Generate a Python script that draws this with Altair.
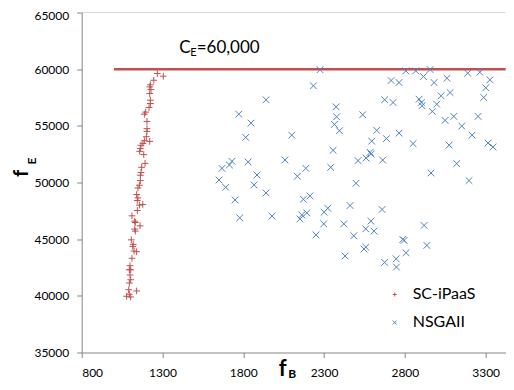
import altair as alt
import pandas as pd

# ---------------- data ----------------
series_names = ["SC-iPaaS", "NSGAII"]

sc_ipaas_fb = [1268, 1305, 1246, 1225, 1221, 1229, 1221, 1225, 1225, 1217, 1196, 1188, 1204, 1204,
               1204, 1200, 1188, 1221, 1179, 1167, 1163, 1159, 1184, 1192, 1171, 1167, 1163, 1163,
               1157, 1148, 1140, 1148, 1144, 1157, 1178, 1144, 1111, 1128, 1132, 1161, 1128, 1132,
               1107, 1119, 1116, 1124, 1140, 1111, 1099, 1095, 1103, 1099, 1103, 1095, 1091, 1140,
               1078, 1103, 1095]
sc_ipaas_fe = [59610, 59380, 59020, 58620, 58440, 58200, 57850, 57260, 56970, 56620, 56210, 56030,
               55390, 54750, 54510, 54040, 53690, 53630, 53450, 53280, 52990, 52750, 52460, 51690,
               51340, 50880, 50640, 50170, 49760, 49520, 48940, 48640, 48410, 48000, 48060, 47530,
               47060, 46590, 46470, 46180, 45890, 45710, 44940, 44540, 44360, 43950, 43890, 43310,
               42660, 42300, 42300, 41840, 41420, 41130, 40540, 40430, 39960, 39900, 40140]

nsgaii_fb = [2275, 2234, 1941, 1772, 1848, 1815, 2100, 2374, 2378, 2364, 2395, 2356, 2341, 2510,
             2498, 1730, 1714, 1668, 1830, 2058, 2187, 2135, 1885, 1650, 1691, 1867, 1941, 1749,
             2172, 2213, 1778, 1978, 2162, 2151, 2193, 2300, 2323, 2461, 2298, 2422, 2250, 2484,
             2430, 2806, 2867, 2956, 2915, 3189, 3264, 3327, 3301, 3288, 2715, 2764, 2981, 3061,
             3024, 3080, 2675, 2727, 2888, 2902, 2906, 2997, 2970, 2539, 3049, 3103, 3253, 3152,
             3216, 3315, 3346, 2626, 2764, 2595, 2686, 2851, 3074, 2585, 2591, 2560, 2663, 3121,
             2962, 3197, 2659, 2590, 2558, 2609, 2919, 2787, 2795, 2936, 2558, 2547, 2807, 2675,
             2746, 2748]
nsgaii_fe = [59950, 58530, 57300, 56030, 55240, 53980, 54180, 56680, 55800, 55130, 54570, 52840,
             51340, 51930, 49930, 51870, 51550, 51250, 51810, 51990, 51250, 50550, 50660, 50220,
             49580, 49780, 49080, 48460, 48520, 48820, 46880, 47030, 47140, 46790, 47320, 47380,
             47730, 47970, 46350, 46350, 45380, 45300, 43510, 59850, 59850, 59970, 59350, 59640,
             59730, 59060, 58360, 57500, 59000, 58820, 58820, 59200, 57650, 57940, 57300, 57060,
             57350, 57060, 56770, 56910, 56270, 55980, 55480, 55830, 55830, 54980, 54180, 53480,
             53130, 54600, 54360, 53650, 53870, 53430, 53300, 52660, 52510, 52160, 51980, 51670,
             50840, 50170, 47620, 46590, 45910, 45710, 46210, 44980, 44890, 44450, 44300, 44130,
             43800, 42950, 43270, 42540]

x_ticks = [800, 1300, 1800, 2300, 2800, 3300]
y_ticks = [35000, 40000, 45000, 50000, 55000, 60000, 65000]
ce_value = 60000
ce_start = 1000
x_max = 3424

df = pd.DataFrame({
    "fB": sc_ipaas_fb + nsgaii_fb,
    "fE": sc_ipaas_fe + nsgaii_fe,
    "series": [series_names[0]] * len(sc_ipaas_fb) + [series_names[1]] * len(nsgaii_fb),
})

# ---------------- style ----------------
W, H = 424, 340
FONT = "Lato"
RED = "#c0504d"
BLUE = "#4f81bd"
AXC = "#868686"
PLUS = "M-1,0L1,0M0,-1L0,1"
CROSS = "M-1,-1L1,1M-1,1L1,-1"

xs = alt.Scale(domain=[x_ticks[0], x_max], nice=False, zero=False)
ys = alt.Scale(domain=[y_ticks[0], y_ticks[-1]], nice=False, zero=False)

x_axis = alt.Axis(values=x_ticks, title=None, grid=False, format="d",
                  domainColor=AXC, tickColor=AXC, tickSize=5, labelPadding=10,
                  labelFont=FONT, labelFontSize=12, labelColor="#000000")
y_axis = alt.Axis(values=y_ticks, title=None, grid=False, format="d",
                  domainColor=AXC, tickColor=AXC, tickSize=5, labelPadding=8,
                  labelFont=FONT, labelFontSize=12, labelColor="#000000",
                  labelOffset={"condition": {"test": f"datum.value == {y_ticks[-1]}", "value": 3}, "value": 0})

legend = alt.Legend(
    title=None, orient="none", legendX=305, legendY=274,
    labelFont=FONT, labelFontSize=16, labelColor="#000000",
    symbolSize=16, symbolStrokeWidth=1, labelOffset=10, rowPadding=12, padding=0,
)

points = alt.Chart(df).mark_point(filled=False, strokeWidth=1, opacity=1).encode(
    x=alt.X("fB:Q", scale=xs, axis=x_axis),
    y=alt.Y("fE:Q", scale=ys, axis=y_axis),
    color=alt.Color("series:N", scale=alt.Scale(domain=series_names, range=[RED, BLUE]), legend=legend),
    shape=alt.Shape("series:N", scale=alt.Scale(domain=series_names, range=[PLUS, CROSS]), legend=legend),
    size=alt.value(45),
)

top_line = alt.Chart(pd.DataFrame({"fE": [y_ticks[-1]]})).mark_rule(color="#d9d9d9", strokeWidth=1).encode(
    y=alt.Y("fE:Q", scale=ys, axis=y_axis), x=alt.value(0), x2=alt.value(W))

ce_line = alt.Chart(pd.DataFrame({"fB": [ce_start], "x2": [x_max], "fE": [ce_value]})).mark_rule(
    color=RED, strokeWidth=2.5).encode(
    x=alt.X("fB:Q", scale=xs, axis=x_axis), x2="x2:Q", y=alt.Y("fE:Q", scale=ys, axis=y_axis))


def label(txt, x, y, size, bold=False, angle=0, baseline="alphabetic", align="left"):
    kw = dict(font=FONT, fontSize=size, color="#000000", align=align, baseline=baseline,
              fontWeight="bold" if bold else "normal")
    if angle:
        kw["angle"] = angle
    return alt.Chart(pd.DataFrame({"t": [txt]})).mark_text(**kw).encode(
        x=alt.value(x), y=alt.value(y), text="t:N")


texts = [
    label("C", 97.5, 40.5, 17),
    label("E", 108.5, 43.5, 11),
    label("=60,000", 115, 40.5, 17),
    label("f", -59.5, 161, 20, bold=True, angle=270, baseline="middle", align="center"),
    label("E", -49.5, 148.5, 12, bold=True, angle=270, baseline="middle", align="center"),
    label("f", 201, 357, 22, bold=True, baseline="middle", align="center"),
    label("B", 210.5, 362, 12, bold=True, baseline="middle", align="center"),
]

chart = alt.layer(top_line, ce_line, points, *texts).properties(
    width=W, height=H,
    autosize=alt.AutoSizeParams(type="none"),
    padding={"left": 73.7, "top": 4.5, "right": 0, "bottom": 29.5},
).configure_view(stroke=None)

chart.save("out.html", embed_options={"renderer": "svg", "actions": False})
